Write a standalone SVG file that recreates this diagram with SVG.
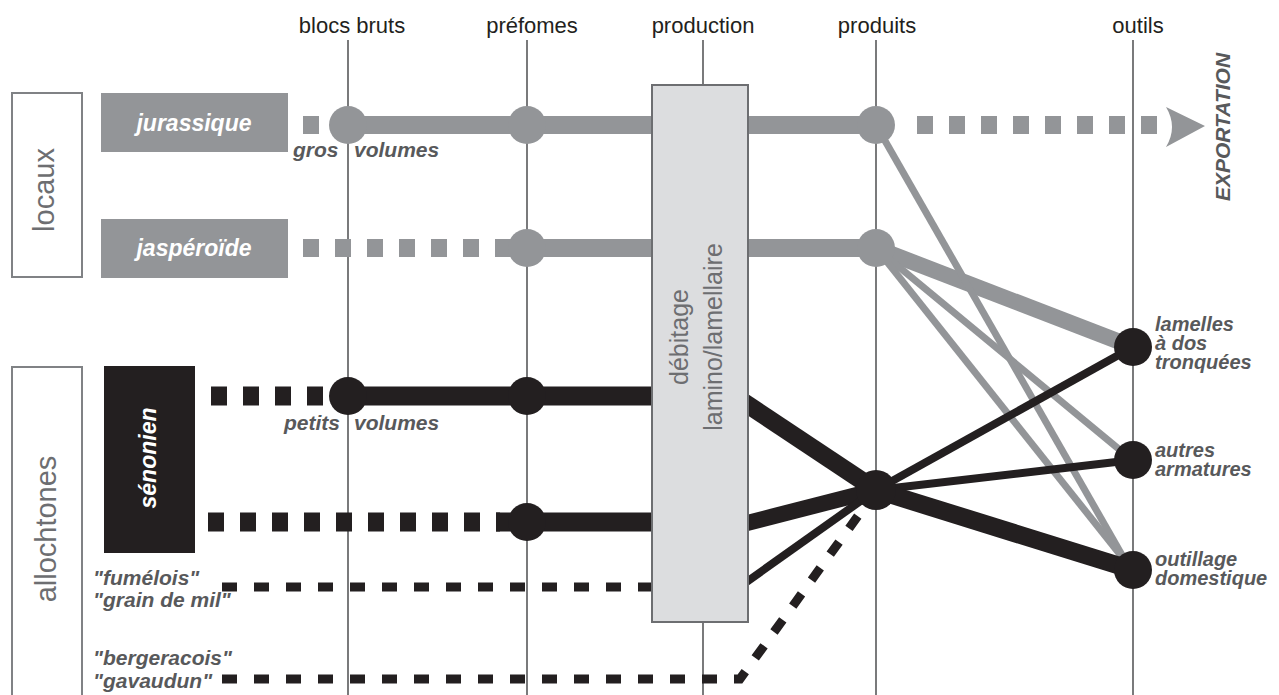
<svg xmlns="http://www.w3.org/2000/svg" width="1279" height="695" viewBox="0 0 1279 695">
<style>
.hdr{font-family:"Liberation Sans",Arial,sans-serif;font-size:22px;fill:#231f20;text-anchor:middle}
.big{font-family:"Liberation Sans",Arial,sans-serif;font-size:29px;fill:#6d6e71;text-anchor:middle}
.box{font-family:"Liberation Sans",Arial,sans-serif;font-size:25px;fill:#6d6e71;text-anchor:middle}
.lbl{font-family:"Liberation Sans",Arial,sans-serif;font-size:21px;font-weight:bold;font-style:italic;fill:#58595b}
.out{font-family:"Liberation Sans",Arial,sans-serif;font-size:20px;font-weight:bold;font-style:italic;fill:#58595b}
.wht{font-family:"Liberation Sans",Arial,sans-serif;font-size:23px;font-weight:bold;font-style:italic;fill:#ffffff;text-anchor:middle}
.axis{stroke:#58595b;stroke-width:1.6;fill:none}
.g{stroke:#939598;fill:none}
.k{stroke:#231f20;fill:none}
.dg{fill:#939598}
.dk{fill:#231f20}
</style>
<g id="axes">
<line class="axis" x1="348" y1="40" x2="348" y2="695"/>
<line class="axis" x1="527" y1="40" x2="527" y2="695"/>
<line class="axis" x1="703" y1="40" x2="703" y2="695"/>
<line class="axis" x1="876" y1="40" x2="876" y2="695"/>
<line class="axis" x1="1133" y1="40" x2="1133" y2="695"/>
</g>
<g id="headers">
<text class="hdr" x="352" y="33">blocs bruts</text>
<text class="hdr" x="532" y="33">préfomes</text>
<text class="hdr" x="703" y="33">production</text>
<text class="hdr" x="877" y="33">produits</text>
<text class="hdr" x="1138" y="33">outils</text>
</g>
<g id="connectors">
<line class="g" x1="303" y1="125" x2="330" y2="125" stroke-width="18" stroke-dasharray="16 16"/>
<line class="g" x1="348" y1="125" x2="876" y2="125" stroke-width="18"/>
<line class="g" x1="917" y1="125" x2="1160" y2="125" stroke-width="18" stroke-dasharray="16 16"/>
<path class="dg" d="M1166,107 L1205,126 L1166,147 Q1178,127 1166,107 Z"/>
<line class="g" x1="303" y1="248" x2="495" y2="248" stroke-width="18" stroke-dasharray="16 16"/>
<line class="g" x1="495" y1="248" x2="876" y2="248" stroke-width="18"/>
<line class="g" x1="876" y1="248" x2="1133" y2="347" stroke-width="16"/>
<line class="g" x1="876" y1="125" x2="1126" y2="562" stroke-width="7"/>
<line class="g" x1="876" y1="248" x2="1126" y2="455" stroke-width="7"/>
<line class="g" x1="876" y1="248" x2="1126" y2="562" stroke-width="7"/>
<line class="k" x1="211" y1="396" x2="330" y2="396" stroke-width="19" stroke-dasharray="16 16"/>
<line class="k" x1="348" y1="396" x2="700" y2="396" stroke-width="19"/>
<line class="k" x1="208" y1="522" x2="500" y2="522" stroke-width="19" stroke-dasharray="16 16"/>
<line class="k" x1="496" y1="522" x2="700" y2="522" stroke-width="19"/>
<line class="k" x1="222" y1="587" x2="700" y2="587" stroke-width="9" stroke-dasharray="15 17"/>
<path class="k" d="M222,679 H740 L868,502" stroke-width="9" stroke-dasharray="15 17"/>
<line class="k" x1="700" y1="373" x2="876" y2="490" stroke-width="18"/>
<line class="k" x1="700" y1="535" x2="876" y2="490" stroke-width="16"/>
<line class="k" x1="700" y1="615" x2="876" y2="490" stroke-width="8"/>
<line class="k" x1="876" y1="490" x2="1133" y2="347" stroke-width="8"/>
<line class="k" x1="876" y1="490" x2="1133" y2="460" stroke-width="8"/>
<line class="k" x1="876" y1="490" x2="1133" y2="570" stroke-width="18"/>
</g>
<g id="dots">
<circle class="dg" cx="348" cy="125" r="19"/>
<circle class="dg" cx="527" cy="125" r="19"/>
<circle class="dg" cx="876" cy="125" r="19"/>
<circle class="dg" cx="527" cy="248" r="19"/>
<circle class="dg" cx="876" cy="248" r="19"/>
<circle class="dk" cx="348" cy="396" r="19"/>
<circle class="dk" cx="527" cy="396" r="19"/>
<circle class="dk" cx="527" cy="522" r="19"/>
<circle class="dk" cx="876" cy="490" r="20"/>
<circle class="dk" cx="1133" cy="347" r="19"/>
<circle class="dk" cx="1133" cy="460" r="19"/>
<circle class="dk" cx="1133" cy="570" r="19"/>
</g>
<g id="production">
<rect x="652" y="85" width="96" height="537" fill="#dcdddf" stroke="#6d6e71" stroke-width="2"/>
<text class="box" transform="translate(688,337) rotate(-90)">débitage</text>
<text class="box" transform="translate(722,337) rotate(-90)">lamino/lamellaire</text>
</g>
<g id="locaux">
<rect x="12" y="93" width="70" height="184" fill="#ffffff" stroke="#808285" stroke-width="2"/>
<text class="big" transform="translate(54,190) rotate(-90)">locaux</text>
</g>
<g id="allochtones">
<rect x="12" y="367" width="70" height="340" fill="#ffffff" stroke="#808285" stroke-width="2"/>
<text class="big" transform="translate(56,529) rotate(-90)">allochtones</text>
</g>
<g id="jurassique">
<rect x="101" y="93" width="187" height="59" fill="#939598"/>
<text class="wht" x="194" y="131">jurassique</text>
</g>
<g id="jasperoide">
<rect x="101" y="219" width="187" height="59" fill="#939598"/>
<text class="wht" x="194" y="256">jaspéroïde</text>
</g>
<g id="senonien">
<rect x="104" y="366" width="91" height="187" fill="#231f20"/>
<text class="wht" transform="translate(156,458) rotate(-90)">sénonien</text>
</g>
<g id="labels">
<text class="lbl" x="293" y="157">gros</text>
<text class="lbl" x="354" y="157">volumes</text>
<text class="lbl" x="284" y="430">petits</text>
<text class="lbl" x="354" y="430">volumes</text>
<text class="lbl" x="93" y="585">"fumélois"</text>
<text class="lbl" x="93" y="607">"grain de mil"</text>
<text class="lbl" x="93" y="665">"bergeracois"</text>
<text class="lbl" x="93" y="688">"gavaudun"</text>
<text class="lbl" transform="translate(1230,127) rotate(-90)" text-anchor="middle">EXPORTATION</text>
</g>
<g id="outils-labels">
<text class="out"><tspan x="1155" y="331">lamelles</tspan><tspan x="1155" y="350">à dos</tspan><tspan x="1155" y="369">tronquées</tspan></text>
<text class="out"><tspan x="1155" y="457">autres</tspan><tspan x="1155" y="476">armatures</tspan></text>
<text class="out"><tspan x="1155" y="566">outillage</tspan><tspan x="1155" y="585">domestique</tspan></text>
</g>
</svg>
